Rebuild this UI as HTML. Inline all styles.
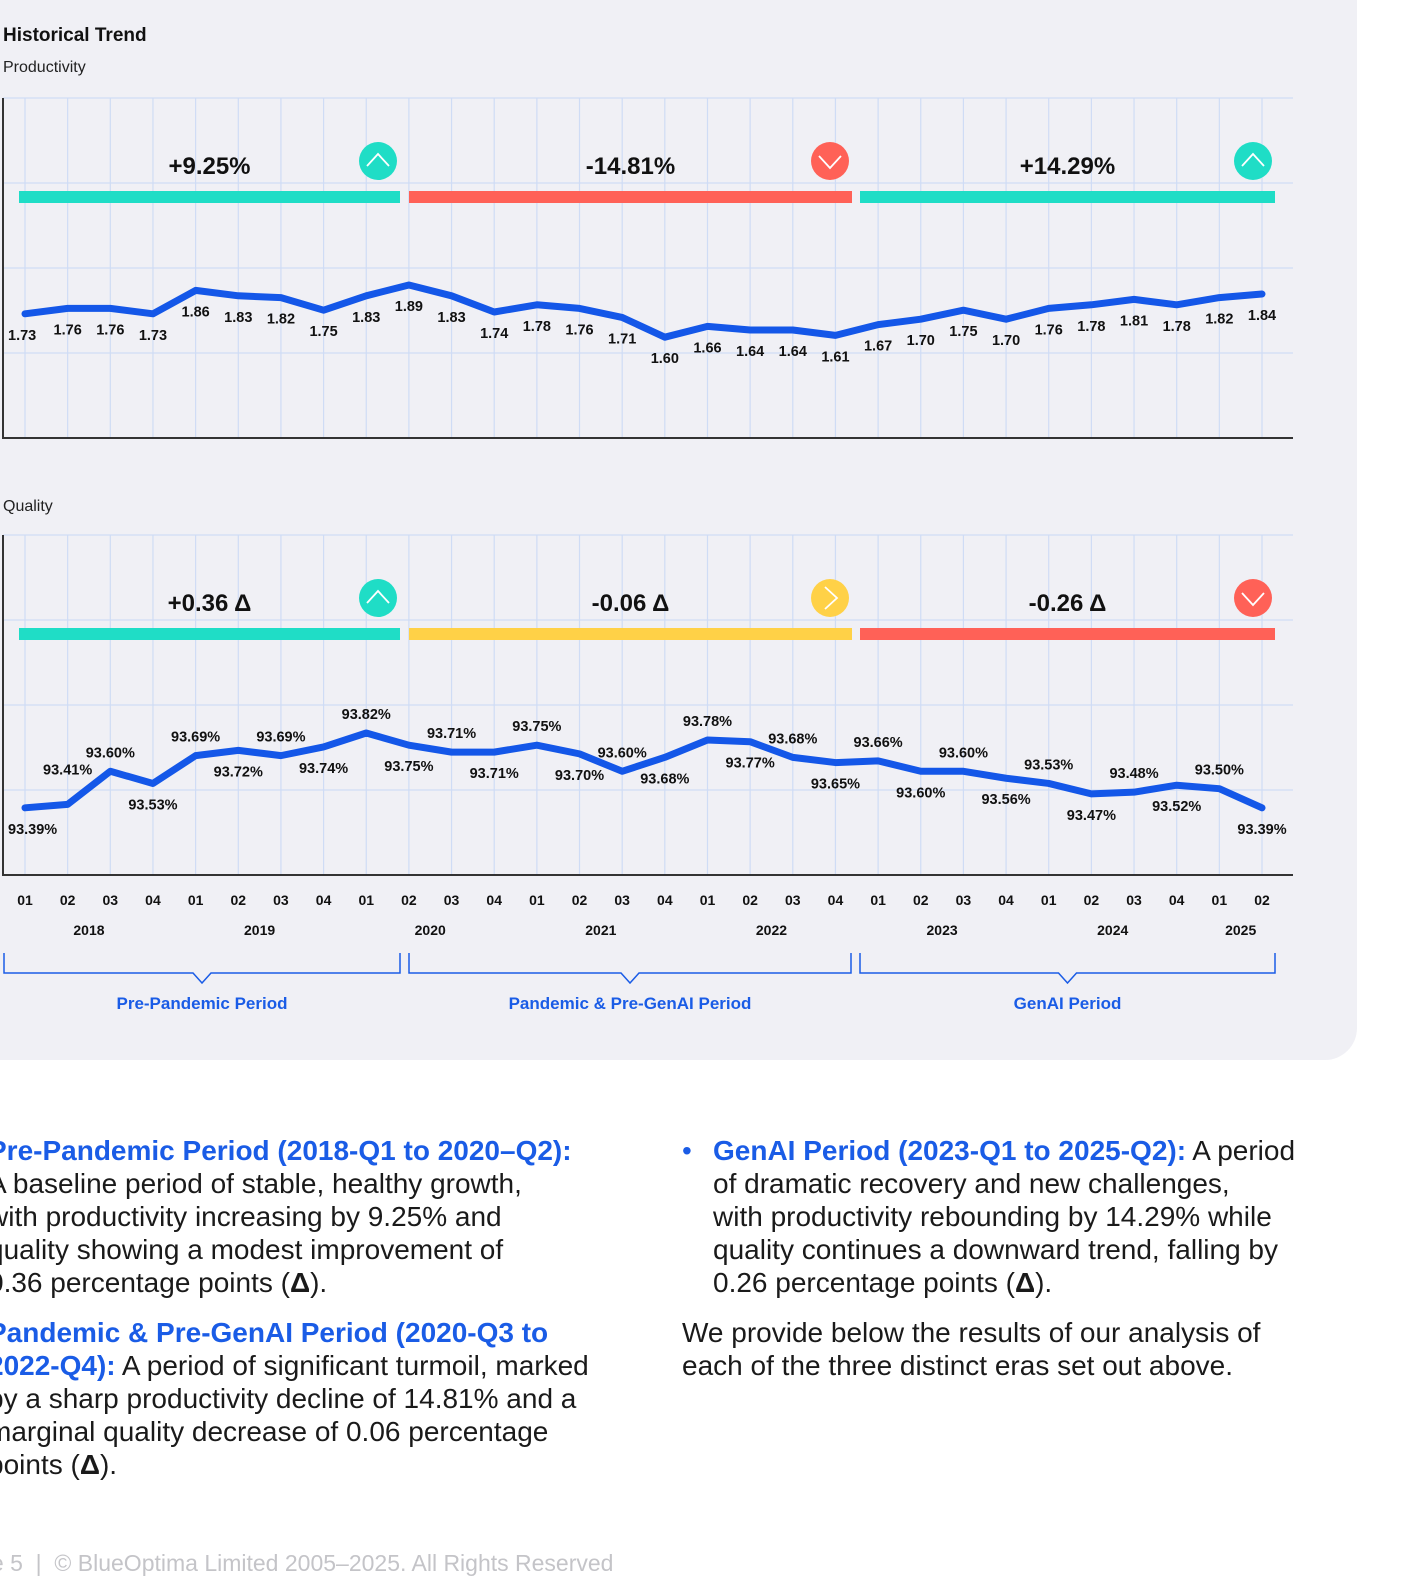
<!DOCTYPE html>
<html><head><meta charset="utf-8">
<style>
html,body{margin:0;padding:0;width:1428px;height:1584px;overflow:hidden;background:#fff;font-family:"Liberation Sans",sans-serif;}
#panel{position:absolute;left:0;top:0;width:1357px;height:1060px;background:#f0f0f5;border-bottom-right-radius:32px;}
svg{position:absolute;left:0;top:0;}
.txt{position:absolute;font-size:28px;line-height:33px;color:#1a1a1a;white-space:nowrap;}
.hl{color:#1a5ce6;font-weight:bold;}
#footer{position:absolute;left:-50px;top:1550px;font-size:23px;color:#c4c4c8;white-space:nowrap;}
</style></head>
<body>
<div id="panel"></div>
<svg id="chart" width="1428" height="1070"></svg>

<div class="txt" style="left:-12px;top:1134px;"><span class="hl">Pre-Pandemic Period (2018-Q1 to 2020–Q2):</span><br>A baseline period of stable, healthy growth,<br>with productivity increasing by 9.25% and<br>quality showing a modest improvement of<br>0.36 percentage points (<b>Δ</b>).</div>
<div class="txt" style="left:-12px;top:1316px;"><span class="hl">Pandemic &amp; Pre-GenAI Period (2020-Q3 to</span><br><span class="hl">2022-Q4):</span> A period of significant turmoil, marked<br>by a sharp productivity decline of 14.81% and a<br>marginal quality decrease of 0.06 percentage<br>points (<b>Δ</b>).</div>
<div class="txt" style="left:682px;top:1134px;"><span style="color:#1a5ce6;">•</span></div>
<div class="txt" style="left:713px;top:1134px;"><span class="hl">GenAI Period (2023-Q1 to 2025-Q2):</span> A period<br>of dramatic recovery and new challenges,<br>with productivity rebounding by 14.29% while<br>quality continues a downward trend, falling by<br>0.26 percentage points (<b>Δ</b>).</div>
<div class="txt" style="left:682px;top:1316px;">We provide below the results of our analysis of<br>each of the three distinct eras set out above.</div>
<div id="footer">Page 5 &nbsp;|&nbsp; © BlueOptima Limited 2005–2025. All Rights Reserved</div>

<script>
const quarters = ["01","02","03","04","01","02","03","04","01","02","03","04","01","02","03","04","01","02","03","04","01","02","03","04","01","02","03","04","01","02"];
const years = ["2018","2019","2020","2021","2022","2023","2024","2025"];
const productivity = [1.73,1.76,1.76,1.73,1.86,1.83,1.82,1.75,1.83,1.89,1.83,1.74,1.78,1.76,1.71,1.60,1.66,1.64,1.64,1.61,1.67,1.70,1.75,1.70,1.76,1.78,1.81,1.78,1.82,1.84];
const quality = [93.39,93.41,93.60,93.53,93.69,93.72,93.69,93.74,93.82,93.75,93.71,93.71,93.75,93.70,93.60,93.68,93.78,93.77,93.68,93.65,93.66,93.60,93.60,93.56,93.53,93.47,93.48,93.52,93.50,93.39];
const qualityLabelSide = ["below","above","above","below","above","below","above","below","above","below","above","below","above","below","above","below","above","below","above","below","above","below","above","below","above","below","above","below","above","below"];
const periodNames = ["Pre-Pandemic Period","Pandemic & Pre-GenAI Period","GenAI Period"];
const prodChanges = ["+9.25%","-14.81%","+14.29%"];
const prodTrend = ["up","down","up"];
const qualChanges = ["+0.36 Δ","-0.06 Δ","-0.26 Δ"];
const qualTrend = ["up","flat","down"];

const NS="http://www.w3.org/2000/svg";
const svg=document.getElementById('chart');
const COL={up:"#1fddc6",down:"#ff6157",flat:"#ffd147"};
const BLUE="#1457e8";
function mk(tag,attrs,parent){const e=document.createElementNS(NS,tag);for(const k in attrs)e.setAttribute(k,attrs[k]);(parent||svg).appendChild(e);return e;}
function txt(x,y,s,attrs){const t=mk('text',Object.assign({x:x,y:y,'font-family':'Liberation Sans, sans-serif'},attrs));t.textContent=s;return t;}

const x0=25, dx=(1262-25)/29;
function xS(i){return x0+i*dx;}
const periodPx=[[19,400],[409,852],[860,1275]];

let t=txt(3,41,"Historical Trend",{'font-size':19,'font-weight':'bold',fill:'#111'});


t=txt(3,72,"Productivity",{'font-size':16,fill:'#222'});


t=txt(3,511,"Quality",{'font-size':16,fill:'#222'});



function icon(cx,cy,trend){
  const g=mk('g',{});
  
  
  mk('circle',{cx:cx,cy:cy,r:19,fill:COL[trend]},g);
  let d;
  if(trend==='up')d=`M${cx-11} ${cy+5} L${cx} ${cy-7} L${cx+11} ${cy+5}`;
  else if(trend==='down')d=`M${cx-11} ${cy-5} L${cx} ${cy+7} L${cx+11} ${cy-5}`;
  else d=`M${cx-5} ${cy-11} L${cx+7} ${cy} L${cx-5} ${cy+11}`;
  mk('path',{d:d,stroke:'#fff','stroke-width':1.8,fill:'none'},g);
}

function panel(top,vals,yFn,labels,changes,trends,sides,name){
  const bottom=top+340;
  const g=mk('g',{});
  
  
  for(let k=0;k<4;k++) mk('line',{x1:3,x2:1293,y1:top+k*85,y2:top+k*85,stroke:'#cfdcf5','stroke-width':1.2},g);
  for(let i=0;i<vals.length;i++) mk('line',{x1:xS(i),x2:xS(i),y1:top,y2:bottom,stroke:'#cfdcf5','stroke-width':1.2},g);
  let a=mk('line',{x1:3,x2:3,y1:top,y2:bottom,stroke:'#333','stroke-width':2});
  
  
  a=mk('line',{x1:2,x2:1293,y1:bottom,y2:bottom,stroke:'#333','stroke-width':2});
  
  
  for(let p=0;p<3;p++){
    const [l,r]=periodPx[p];
    const b=mk('rect',{x:l,y:top+93,width:r-l,height:12,fill:COL[trends[p]]});
    
    
    const c=txt((l+r)/2,top+76,changes[p],{'font-size':24,'font-weight':'bold',fill:'#111','text-anchor':'middle'});
    
    
    icon(r-22,top+63,trends[p]);
  }
  const pts=vals.map((v,i)=>xS(i)+','+yFn(v)).join(' ');
  const pl=mk('polyline',{points:pts,fill:'none',stroke:BLUE,'stroke-width':7,'stroke-linejoin':'round','stroke-linecap':'round'});
  
  
  vals.forEach((v,i)=>{
    const y=yFn(v);
    const side=sides?sides[i]:'below';
    let ly=side==='below'?y+26:y-14;
    if(sides && i===1 && side==='above') ly=y-30;
    let lx=xS(i), anchor='middle';
    if(i===0){lx=8;anchor='start';}
    const l=txt(lx,ly,labels[i],{'font-size':14.5,'font-weight':'bold',fill:'#111','text-anchor':anchor});
    
    
  });
}

const yP=v=>285+(1.89-v)*180;
const yQ=v=>733+(93.82-v)*174;
panel(98,productivity,yP,productivity.map(v=>v.toFixed(2)),prodChanges,prodTrend,null,'productivity');
panel(535,quality,yQ,quality.map(v=>v.toFixed(2)+'%'),qualChanges,qualTrend,qualityLabelSide,'quality');

quarters.forEach((q,i)=>{
  const e=txt(xS(i),905,q,{'font-size':14,'font-weight':'bold',fill:'#111','text-anchor':'middle'});
  
  
});
years.forEach((y,k)=>{
  const s=k*4, e2=Math.min(s+3,quarters.length-1);
  const e=txt((xS(s)+xS(e2))/2,935,y,{'font-size':14,'font-weight':'bold',fill:'#111','text-anchor':'middle'});
  
  
});
const brPx=[[4,400],[409,851],[860,1275]];
brPx.forEach(([l,r],p)=>{
  const c=(l+r)/2;
  const b=mk('path',{d:`M${l} 953 L${l} 973 L${c-9} 973 L${c} 983 L${c+9} 973 L${r} 973 L${r} 953`,fill:'none',stroke:'#1a5ce6','stroke-width':1.5});
  
  
  const e=txt(c,1009,periodNames[p],{'font-size':17,'font-weight':'bold',fill:'#1a5ce6','text-anchor':'middle'});
  
  
});
</script>
</body></html>
